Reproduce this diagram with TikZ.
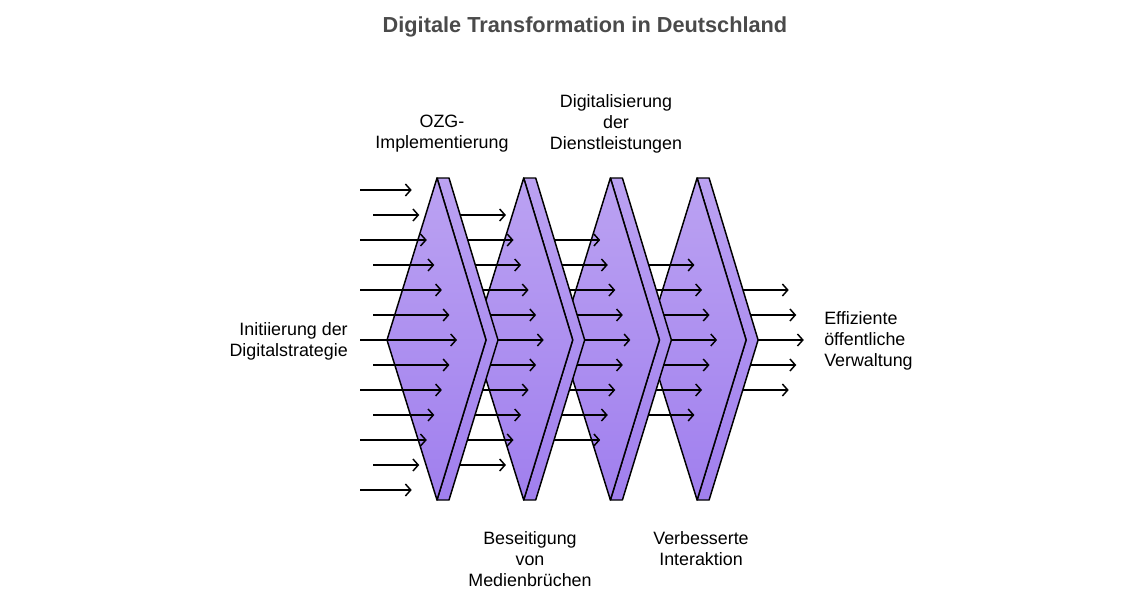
\documentclass[tikz,border=0pt]{standalone}
\usepackage{fontspec}
\setmainfont{Liberation Sans}
\usetikzlibrary{arrows.meta}
\definecolor{plateTop}{RGB}{187,162,242}
\definecolor{plateBot}{RGB}{160,127,238}
\definecolor{titleGray}{RGB}{74,74,74}
\tikzset{
  plate/.style={draw=black,line width=1.1pt,line join=round,top color=plateTop,bottom color=plateBot},
  flow/.style={draw=black,line width=1.1pt,-{Straight Barb[length=4pt,width=9pt,line width=1.1pt]}},
  lbl/.style={font=\fontsize{13.4}{15.75}\selectfont,align=center,inner sep=0pt},
}
% one column of arrows, #1 = how many plates it has passed
\newcommand\flowcol[1]{%
  \foreach \r in {0,...,12} {
    \pgfmathtruncatemacro{\d}{abs(\r-6)}
    \pgfmathtruncatemacro{\odd}{mod(\r,2)}
    \ifnum\d>\numexpr6-#1\relax\else
      \pgfmathsetmacro{\xs}{(\odd==1 ? 373 : 360)+86.7*#1}
      \pgfmathsetmacro{\xe}{457+86.7*#1-7.55*\d}
      \draw[flow] (\xs,190+25*\r) -- (\xe,190+25*\r);
    \fi
  }}
\begin{document}
\begin{tikzpicture}[x=0.75pt,y=-0.75pt]
\useasboundingbox (0,0) rectangle (1140,600);
%%
\node (title) at (585,27) [font=\fontsize{16.3}{20}\selectfont\bfseries,text=titleGray] {Digitale Transformation in Deutschland};
%% plates back to front, the arrows behind each one first
\foreach \k in {3,2,1,0} {
  \pgfmathtruncatemacro{\c}{\k+1}
  \flowcol{\c}
  \pgfmathsetmacro{\xp}{437+86.7*\k}
  \draw[plate] (\xp,178) -- (\xp+12,178) -- (\xp+61,340) -- (\xp+12,500) -- (\xp,500) -- (\xp+49,340) -- cycle;
  \draw[plate] (\xp,178) -- (\xp-50,340) -- (\xp,500) -- (\xp+49,340) -- cycle;
}
\flowcol{0}
%%
\node (lbl_start) at (348,341) [lbl,anchor=east,align=right] {Initiierung der\\Digitalstrategie};
\node (lbl_ozg) at (442,134) [lbl] {OZG-\\Implementierung};
\node (lbl_dienst) at (616,123.5) [lbl] {Digitalisierung\\der\\Dienstleistungen};
\node (lbl_medien) at (530,559) [lbl] {Beseitigung\\von\\Medienbrüchen};
\node (lbl_interakt) at (701,548.5) [lbl] {Verbesserte\\Interaktion};
\node (lbl_ziel) at (824,341) [lbl,anchor=west,align=left] {Effiziente\\öffentliche\\Verwaltung};
%
\end{tikzpicture}
\end{document}
